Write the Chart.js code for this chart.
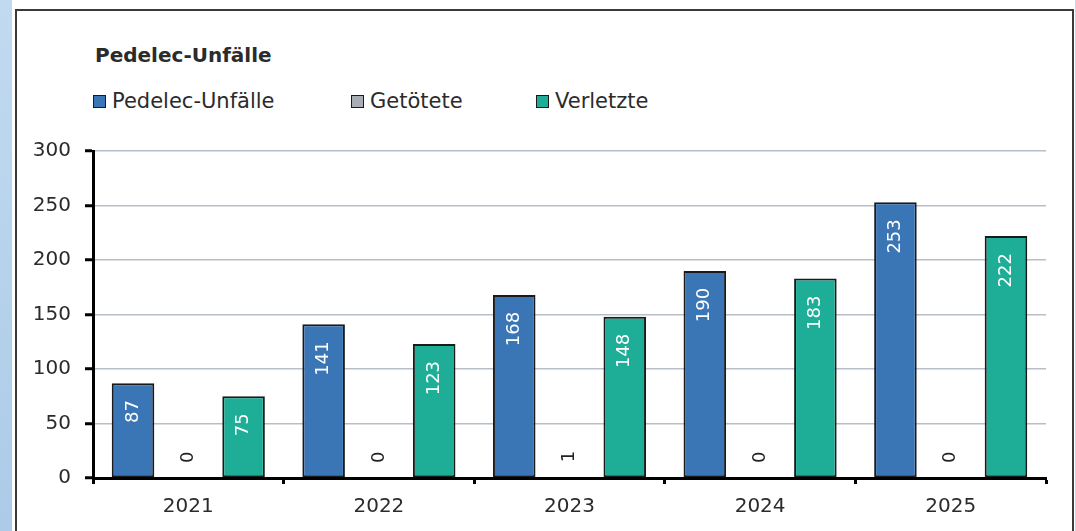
<!DOCTYPE html>
<html lang="de">
<head>
<meta charset="utf-8">
<title>Pedelec-Unfälle</title>
<script src="https://cdn.jsdelivr.net/npm/chart.js@4/dist/chart.umd.min.js"></script>
<style>
  html, body {
    margin: 0;
    padding: 0;
    width: 1076px;
    height: 531px;
    overflow: hidden;
    background: #fff;
    font-family: "DejaVu Sans", sans-serif;
    color: #2b2b2b;
  }
  .strip-left {
    position: absolute;
    left: 0; top: 0;
    width: 12px; height: 531px;
    background: linear-gradient(#c2daf0, #abcbe8);
  }
  .strip-right {
    position: absolute;
    left: 1075px; top: 0;
    width: 1px; height: 531px;
    background: #c2daf0;
  }
  .frame {
    position: absolute;
    left: 15px; top: 9px;
    width: 1055px; height: 600px;
    border: 2px solid #3a3a3a;
  }
  #title {
    position: absolute;
    left: 95px; top: 45px;
    font-size: 20px;
    line-height: 20px;
    font-weight: bold;
    white-space: nowrap;
  }
  .legend-item {
    position: absolute;
    top: 91px;
    font-size: 21px;
    line-height: 21px;
    white-space: nowrap;
  }
  .legend-box {
    position: absolute;
    left: 0; top: 4px;
    width: 11px; height: 11px;
    border: 1.5px solid #1a1a1a;
  }
  .legend-text {
    position: absolute;
    left: 19px; top: 0;
  }
  #wrap {
    position: absolute;
    left: 0; top: 0;
    width: 1076px; height: 531px;
  }
</style>
</head>
<body>
<div class="strip-left"></div>
<div class="strip-right"></div>
<div class="frame"></div>
<div id="title">Pedelec-Unfälle</div>
<div id="legend"></div>
<div id="wrap"><canvas id="chart"></canvas></div>

<script>
// data
const years = ['2021', '2022', '2023', '2024', '2025'];
const seriesNames = ['Pedelec-Unfälle', 'Getötete', 'Verletzte'];
const unfaelle = [87, 141, 168, 190, 253];
const getoetete = [0, 0, 1, 0, 0];
const verletzte = [75, 123, 148, 183, 222];
const yTicks = [0, 50, 100, 150, 200, 250, 300];

const colors = ['#3a75b6', '#a8adb5', '#1eae98'];
const legendLeft = [93, 351, 536];

// ---- legend (html) ----
const legendEl = document.getElementById('legend');
seriesNames.forEach((name, i) => {
  const item = document.createElement('div');
  item.className = 'legend-item';
  item.style.left = legendLeft[i] + 'px';
  const box = document.createElement('span');
  box.className = 'legend-box';
  box.style.background = colors[i];
  const txt = document.createElement('span');
  txt.className = 'legend-text';
  txt.textContent = name;
  item.appendChild(box);
  item.appendChild(txt);
  legendEl.appendChild(item);
});

// ---- vertical value labels on the bars ----
const valueLabels = {
  id: 'valueLabels',
  afterDatasetsDraw(chart) {
    const ctx = chart.ctx;
    ctx.save();
    ctx.font = '18px "DejaVu Sans"';
    ctx.textBaseline = 'middle';
    chart.data.datasets.forEach((ds, i) => {
      const meta = chart.getDatasetMeta(i);
      meta.data.forEach((bar, j) => {
        const v = ds.data[j];
        ctx.save();
        if (i === 1) {
          // small values: dark text above the bar
          ctx.translate(bar.x, bar.base - 15);
          ctx.rotate(-Math.PI / 2);
          ctx.textAlign = 'left';
          ctx.fillStyle = '#222';
        } else {
          ctx.translate(bar.x, bar.y + 17);
          ctx.rotate(-Math.PI / 2);
          ctx.textAlign = 'right';
          ctx.fillStyle = '#fff';
        }
        ctx.fillText(String(v), 0, 0);
        ctx.restore();
      });
    });
    ctx.restore();
  }
};

const seriesData = [unfaelle, getoetete, verletzte];

new Chart(document.getElementById('chart'), {
  type: 'bar',
  data: {
    labels: years,
    datasets: seriesNames.map((name, i) => ({
      label: name,
      data: seriesData[i],
      backgroundColor: colors[i],
      borderColor: '#1a1a1a',
      borderWidth: 2,
      borderSkipped: false,
      categoryPercentage: 0.87,
      barPercentage: 0.77
    }))
  },
  options: {
    responsive: true,
    maintainAspectRatio: false,
    animation: false,
    layout: {
      padding: { top: 151, right: 30, bottom: 0, left: 0 }
    },
    plugins: {
      legend: { display: false },
      title: { display: false },
      tooltip: { enabled: false }
    },
    scales: {
      x: {
        afterFit(scale) { scale.height = 53; },
        grid: {
          offset: true,
          drawOnChartArea: false,
          drawTicks: true,
          tickLength: 6,
          tickColor: '#000',
          tickWidth: 3
        },
        border: { color: '#000', width: 3 },
        ticks: {
          padding: 11,
          color: '#2b2b2b',
          font: { family: 'DejaVu Sans', size: 20 }
        }
      },
      y: {
        min: 0,
        max: 300,
        afterFit(scale) { scale.width = 93; },
        afterBuildTicks(scale) {
          scale.ticks = yTicks.map(v => ({ value: v }));
        },
        grid: {
          color: '#b7bec8',
          lineWidth: 1.5,
          tickLength: 8,
          tickColor: '#000',
          tickWidth: 3
        },
        border: { color: '#000', width: 3 },
        ticks: {
          padding: 14,
          color: '#2b2b2b',
          font: { family: 'DejaVu Sans', size: 20 }
        }
      }
    }
  },
  plugins: [valueLabels]
});
</script>
</body>
</html>
